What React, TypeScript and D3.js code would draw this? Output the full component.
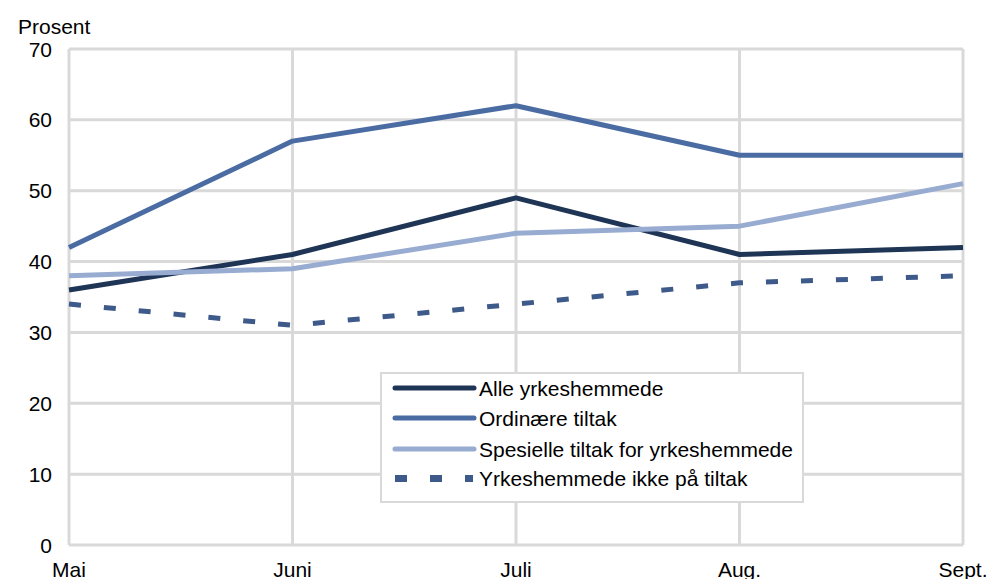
import React from "react";
import * as d3 from "d3";

const categories = ["Mai", "Juni", "Juli", "Aug.", "Sept."];
const alle = [36, 41, 49, 41, 42];
const ordinaere = [42, 57, 62, 55, 55];
const spesielle = [38, 39, 44, 45, 51];
const ikkeTiltak = [34, 31, 34, 37, 38];
const yTicks = [0, 10, 20, 30, 40, 50, 60, 70];

const seriesNames = [
  "Alle yrkeshemmede",
  "Ordinære tiltak",
  "Spesielle tiltak for yrkeshemmede",
  "Yrkeshemmede ikke på tiltak",
];

const W = 988;
const H = 579;
const left = 69;
const right = 963;
const top = 49;
const bottom = 545;
const font = "'Liberation Sans', Arial, sans-serif";

export default function App() {
  const x = d3.scalePoint<string>().domain(categories).range([left, right]);
  const y = d3.scaleLinear().domain([0, 70]).range([bottom, top]);
  const line = d3
    .line<number>()
    .x((_, i) => x(categories[i]) as number)
    .y((d) => y(d));

  const series = [
    { name: seriesNames[0], data: alle, color: "#1f3556", width: 5, dash: undefined as string | undefined },
    { name: seriesNames[1], data: ordinaere, color: "#4a6ca3", width: 5, dash: undefined },
    { name: seriesNames[2], data: spesielle, color: "#98acd1", width: 5, dash: undefined },
    { name: seriesNames[3], data: ikkeTiltak, color: "#3e5a8a", width: 5, dash: "12,23" },
  ];

  const grid = "#d9d9d9";
  const legX = 381;
  const legY = 373;
  const legW = 422;
  const legH = 129;
  const rowY = [388, 418, 449, 478];

  return (
    <svg width={W} height={H} style={{ position: "absolute", left: 0, top: 0 }} fontFamily={font}>
      <rect width={W} height={H} fill="#fff" />
      {yTicks.map((t) => (
        <line key={"h" + t} x1={left} x2={right} y1={y(t)} y2={y(t)} stroke={grid} strokeWidth={3} />
      ))}
      {categories.map((c) => (
        <line key={"v" + c} x1={x(c)} x2={x(c)} y1={top} y2={bottom} stroke={grid} strokeWidth={3} />
      ))}
      {yTicks.map((t) => (
        <text key={"yl" + t} x={52} y={y(t)} dy="0.36em" textAnchor="end" fontSize={21} fill="#000">
          {t}
        </text>
      ))}
      {categories.map((c) => (
        <text key={"xl" + c} x={x(c)} y={577} textAnchor="middle" fontSize={21} fill="#000">
          {c}
        </text>
      ))}
      <text x={18} y={34} fontSize={21} fill="#000">
        Prosent
      </text>
      {series.map((s) => (
        <path
          key={s.name}
          d={line(s.data) || ""}
          fill="none"
          stroke={s.color}
          strokeWidth={s.width}
          strokeDasharray={s.dash}
          strokeLinejoin="round"
        />
      ))}
      <rect x={legX} y={legY} width={legW} height={legH} fill="#fff" stroke={grid} strokeWidth={2} />
      {series.map((s, i) => (
        <g key={"leg" + i}>
          {s.dash ? (
            [0, 1, 2].map((k) => (
              <rect key={k} x={395 + k * 35} y={rowY[i] - 3} width={k === 2 ? 8 : 12} height={7} fill={s.color} />
            ))
          ) : (
            <line x1={395} x2={474} y1={rowY[i]} y2={rowY[i]} stroke={s.color} strokeWidth={5} strokeLinecap="round" />
          )}
          <text x={479} y={rowY[i]} dy="0.36em" fontSize={21} fill="#000">
            {s.name}
          </text>
        </g>
      ))}
    </svg>
  );
}
